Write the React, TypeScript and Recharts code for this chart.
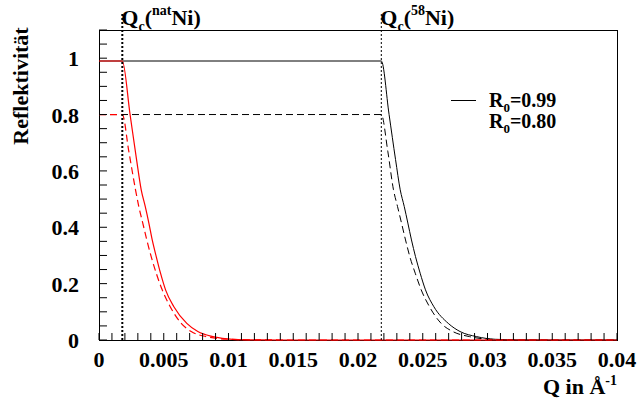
import { LineChart, Line, XAxis, YAxis, ReferenceLine } from "recharts";

// Q in 1/Angstrom, reflectivity
const qRedSolid = [0, 0.0018, 0.0024, 0.0029, 0.00326, 0.00357, 0.00385, 0.00411, 0.00442, 0.00475, 0.00514, 0.00578, 0.00678, 0.00763, 0.00879, 0.01033, 0.0125, 0.015, 0.04];
const rRedSolid = [0.99, 0.99, 0.8, 0.64, 0.533, 0.474, 0.415, 0.355, 0.296, 0.237, 0.178, 0.118, 0.059, 0.03, 0.012, 0.0025, 0.0005, 0, 0];

const qRedDashed = [0, 0.0018, 0.0023, 0.00282, 0.00307, 0.00338, 0.00369, 0.00403, 0.00442, 0.00488, 0.0055, 0.00635, 0.00712, 0.00828, 0.0098, 0.012, 0.015, 0.04];
const rRedDashed = [0.8, 0.8, 0.67, 0.533, 0.474, 0.415, 0.355, 0.296, 0.237, 0.178, 0.118, 0.059, 0.03, 0.012, 0.003, 0.0005, 0, 0];

const qBlackSolid = [0, 0.0218, 0.0224, 0.0229, 0.02326, 0.02357, 0.02385, 0.02413, 0.02444, 0.0248, 0.02521, 0.02586, 0.02697, 0.02788, 0.02916, 0.0306, 0.0325, 0.035, 0.04];
const rBlackSolid = [0.99, 0.99, 0.8, 0.64, 0.533, 0.474, 0.415, 0.355, 0.296, 0.237, 0.178, 0.118, 0.059, 0.03, 0.012, 0.0025, 0.0005, 0, 0];

const qBlackDashed = [0, 0.0218, 0.0223, 0.02274, 0.02305, 0.02336, 0.02367, 0.024, 0.02442, 0.02488, 0.02552, 0.02642, 0.02732, 0.02861, 0.03, 0.032, 0.035, 0.04];
const rBlackDashed = [0.8, 0.8, 0.67, 0.533, 0.474, 0.415, 0.355, 0.296, 0.237, 0.178, 0.118, 0.059, 0.03, 0.012, 0.003, 0.0005, 0, 0];

const qcNat = 0.0018;
const qc58 = 0.0218;

const xMajorTicks = [0, 0.005, 0.01, 0.015, 0.02, 0.025, 0.03, 0.035, 0.04];
const xMajorLabels = ["0", "0.005", "0.01", "0.015", "0.02", "0.025", "0.03", "0.035", "0.04"];
const yMajorTicks = [0, 0.2, 0.4, 0.6, 0.8, 1];
const yMajorLabels = ["0", "0.2", "0.4", "0.6", "0.8", "1"];
const xMinorStep = 0.001;
const yMinorStep = 0.05;

const xTicks = Array.from({ length: 41 }, (_, i) => +(i * xMinorStep).toFixed(4));
const yTicks = Array.from({ length: 23 }, (_, i) => +(i * yMinorStep).toFixed(3));

const toPts = (q: number[], r: number[]) => q.map((v, i) => ({ q: v, r: r[i] }));

const FONT = "'Liberation Serif', 'Times New Roman', serif";
const PLOT_LEFT = 99;
const PLOT_TOP = 30;
const PLOT_RIGHT = 617;
const PLOT_BOTTOM = 340;

function majorIndex(v: number, majors: number[]) {
  return majors.findIndex((m) => Math.abs(m - v) < 1e-7);
}

function XTickLabel(props: any) {
  const { x, payload } = props;
  const idx = majorIndex(payload.value, xMajorTicks);
  if (idx < 0) return <g />;
  return (
    <text x={x} y={PLOT_BOTTOM + 27} textAnchor="middle" fontFamily={FONT} fontWeight="bold" fontSize={22} fill="#000">
      {xMajorLabels[idx]}
    </text>
  );
}

function YTickLabel(props: any) {
  const { y, payload } = props;
  const idx = majorIndex(payload.value, yMajorTicks);
  if (idx < 0) return <g />;
  return (
    <text x={PLOT_LEFT - 20} y={y + 8} textAnchor="end" fontFamily={FONT} fontWeight="bold" fontSize={22} fill="#000">
      {yMajorLabels[idx]}
    </text>
  );
}

const NoLabel = () => <g />;

function QcLabel({ viewBox, iso }: any) {
  return (
    <text x={viewBox.x - 1} y={25} fontFamily={FONT} fontWeight="bold" fontSize={22} fill="#000">
      <tspan>Q</tspan>
      <tspan fontSize={14} dy={6}>c</tspan>
      <tspan dy={-6}>(</tspan>
      <tspan fontSize={14} dy={-10}>{iso}</tspan>
      <tspan dy={10}>Ni)</tspan>
    </text>
  );
}

function LegendBox() {
  const text = {
    fontFamily: FONT,
    fontWeight: "bold" as const,
    fontSize: 20,
    color: "#000",
    lineHeight: "19px",
    height: 19,
    whiteSpace: "nowrap" as const,
    position: "absolute" as const,
    left: 38,
  };
  const sub = { fontSize: 13, position: "relative" as const, top: 5 };
  return (
    <div style={{ position: "absolute", left: 451, top: 91, width: 140, height: 42 }}>
      <div style={{ position: "absolute", left: 0, top: 9, width: 25, borderTop: "1px solid #000" }} />
      <div style={{ ...text, top: 0 }}>
        R<span style={sub}>0</span>=0.99
      </div>
      <div style={{ ...text, top: 21 }}>
        R<span style={sub}>0</span>=0.80
      </div>
    </div>
  );
}

export default function App() {
  return (
    <div style={{ position: "absolute", left: 0, top: 0, width: 638, height: 403, background: "#fff" }}>
      {/* plot frame sits behind the chart so the red tails stay visible on the bottom edge */}
      <div
        style={{
          position: "absolute",
          left: PLOT_LEFT,
          top: PLOT_TOP,
          width: PLOT_RIGHT - PLOT_LEFT + 1,
          height: PLOT_BOTTOM - PLOT_TOP + 1,
          border: "1px solid #000",
          boxSizing: "border-box",
        }}
      />
      <LineChart width={638} height={403} margin={{ top: PLOT_TOP, right: 638 - PLOT_RIGHT, left: 0, bottom: 0 }}>
        {/* long ticks at labelled values */}
        <XAxis
          xAxisId="xmajor"
          type="number"
          domain={[0, 0.04]}
          allowDataOverflow
          ticks={xMajorTicks}
          interval={0}
          tickSize={-14}
          tickMargin={0}
          tick={<NoLabel />}
          tickLine={{ stroke: "#000" }}
          axisLine={false}
          height={0}
        />
        <YAxis
          yAxisId="ymajor"
          type="number"
          domain={[0, 1.1]}
          allowDataOverflow
          ticks={yMajorTicks}
          interval={0}
          tickSize={-16}
          tickMargin={0}
          tick={<NoLabel />}
          tickLine={{ stroke: "#000" }}
          axisLine={false}
          width={0}
        />
        <XAxis
          type="number"
          dataKey="q"
          domain={[0, 0.04]}
          ticks={xTicks}
          interval={0}
          tickSize={-7}
          tickMargin={0}
          tickLine={{ stroke: "#000" }}
          tick={<XTickLabel />}
          height={63}
          axisLine={false}
          label={{
            content: () => (
              <text x={617} y={394} textAnchor="end" fontFamily={FONT} fontWeight="bold" fontSize={22} fill="#000">
                Q in Å<tspan fontSize={14} dy={-9}>-1</tspan>
              </text>
            ),
          }}
        />
        <YAxis
          type="number"
          domain={[0, 1.1]}
          ticks={yTicks}
          interval={0}
          tickSize={-8}
          tickMargin={0}
          tickLine={{ stroke: "#000" }}
          tick={<YTickLabel />}
          width={PLOT_LEFT}
          axisLine={false}
          label={{
            content: () => (
              <text
                x={28}
                y={86}
                transform="rotate(-90 28 86)"
                textAnchor="middle"
                fontFamily={FONT}
                fontWeight="bold"
                fontSize={22}
                fill="#000"
              >
                Reflektivität
              </text>
            ),
          }}
        />
        <Line data={toPts(qBlackSolid, rBlackSolid)} dataKey="r" type="monotone" stroke="#000" strokeWidth={1} dot={false} isAnimationActive={false} />
        <Line data={toPts(qBlackDashed, rBlackDashed)} dataKey="r" type="monotone" stroke="#000" strokeWidth={1} strokeDasharray="7 4" dot={false} isAnimationActive={false} />
        <Line data={toPts(qRedSolid, rRedSolid)} dataKey="r" type="monotone" stroke="#ff0000" strokeWidth={1.2} dot={false} isAnimationActive={false} />
        <Line data={toPts(qRedDashed, rRedDashed)} dataKey="r" type="monotone" stroke="#ff0000" strokeWidth={1.2} strokeDasharray="7 4" dot={false} isAnimationActive={false} />
        <ReferenceLine
          segment={[{ x: qcNat, y: 0 }, { x: qcNat, y: 1.16 }]}
          stroke="#000"
          strokeWidth={2}
          strokeDasharray="2 2"
          ifOverflow="visible"
          label={<QcLabel iso="nat" />}
        />
        <ReferenceLine
          segment={[{ x: qc58, y: 0 }, { x: qc58, y: 1.16 }]}
          stroke="#000"
          strokeWidth={1}
          strokeDasharray="2 2"
          ifOverflow="visible"
          label={<QcLabel iso="58" />}
        />
      </LineChart>
      <LegendBox />
    </div>
  );
}
